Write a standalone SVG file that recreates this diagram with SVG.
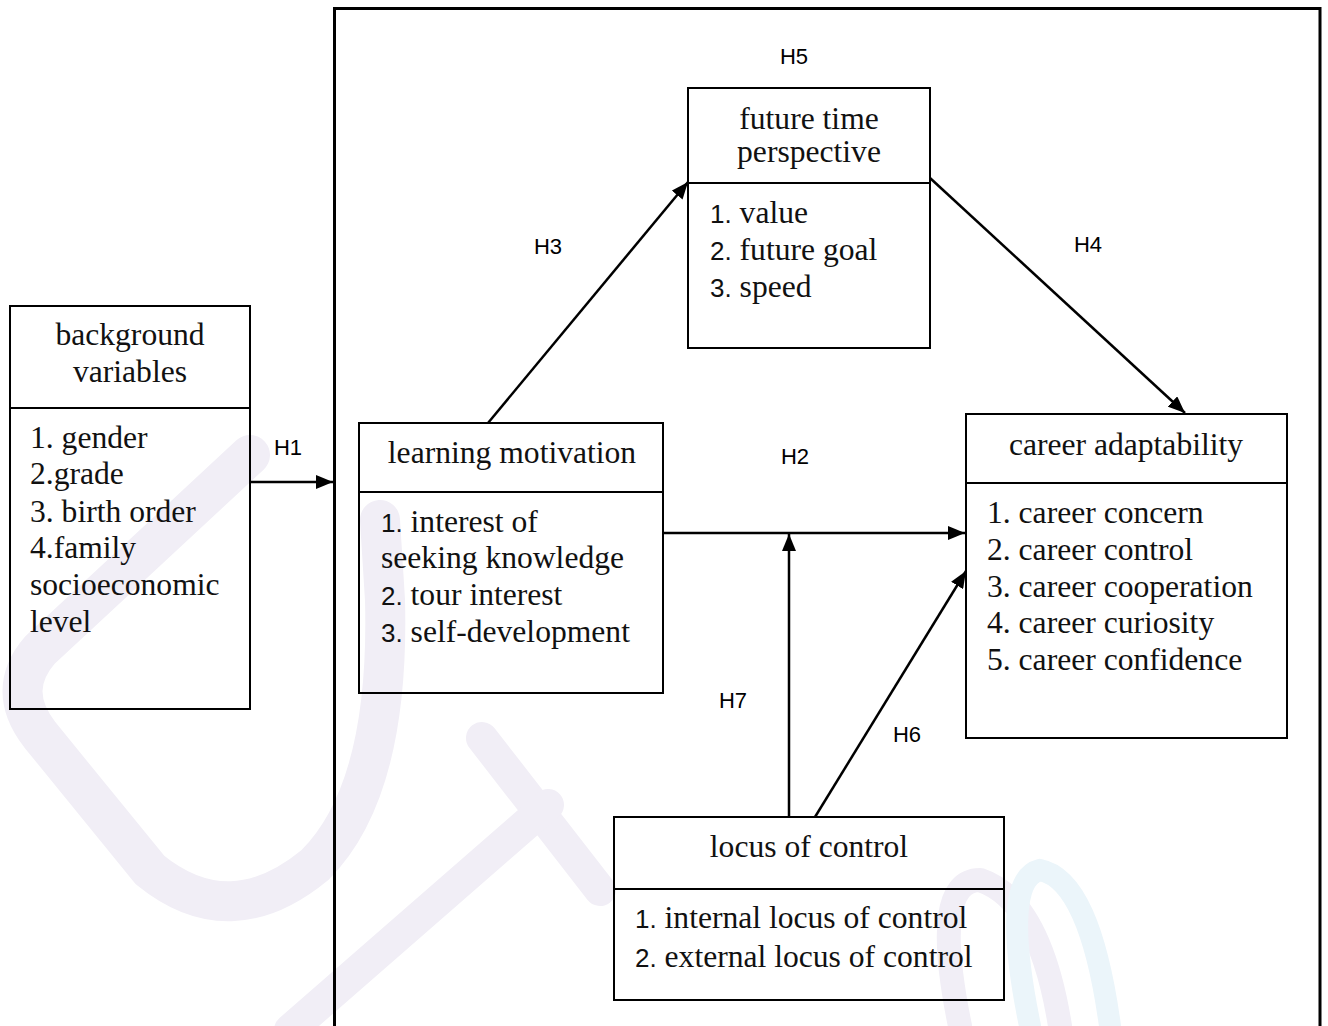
<svg xmlns="http://www.w3.org/2000/svg" width="1328" height="1026" viewBox="0 0 1328 1026">
<style>
.box{fill:none;stroke:#000;stroke-width:2}
.serif{font-family:"Liberation Serif","Times New Roman",serif;font-size:31.6px;fill:#111}
.num{font-family:"Liberation Sans",Arial,sans-serif;font-size:26px}
.lbl{font-family:"Liberation Sans",Arial,sans-serif;font-size:22px;fill:#000;text-anchor:middle}
.mid{text-anchor:middle}
.conn{stroke:#000;stroke-width:2.5;fill:none;marker-end:url(#ah)}
.wm{fill:none;stroke:#f1eef6;stroke-linecap:round;stroke-linejoin:round}
.wb{fill:none;stroke:#ebf5fa;stroke-linecap:round}
</style>
<defs>
<marker id="ah" markerUnits="userSpaceOnUse" markerWidth="18" markerHeight="14" refX="17" refY="7" orient="auto">
<path d="M0,0 L17,7 L0,14 z" fill="#000"/>
</marker>
</defs>
<rect width="1328" height="1026" fill="#fff"/>
<g id="watermark">
<path class="wm" stroke-width="40" d="M250,455 L40,650 Q5,690 40,735 L150,870 Q230,935 315,865 Q390,790 385,600 L380,520"/>
<path class="wm" stroke-width="32" d="M482,738 L600,890"/>
<path class="wm" stroke-width="32" d="M548,805 L290,1030"/>
<path class="wm" stroke-width="24" d="M1060,1026 Q1040,900 980,880 Q930,880 960,1026"/>
<path class="wb" stroke-width="22" d="M1110,1026 Q1090,880 1040,870 Q1000,880 1030,1026"/>
</g>
<path id="frame" d="M334.5,1026 V8.5 H1320 V1026" fill="none" stroke="#000" stroke-width="3"/>
<g id="background-variables">
<rect class="box" x="10" y="306" width="240" height="403"/>
<line class="box" x1="10" y1="408" x2="250" y2="408"/>
<text class="serif mid" x="130" y="345">background</text>
<text class="serif mid" x="130" y="382">variables</text>
<text class="serif" x="30" y="448">1. gender</text>
<text class="serif" x="30" y="484">2.grade</text>
<text class="serif" x="30" y="522">3. birth order</text>
<text class="serif" x="30" y="558">4.family</text>
<text class="serif" x="30" y="595">socioeconomic</text>
<text class="serif" x="30" y="632">level</text>
</g>
<g id="future-time-perspective">
<rect class="box" x="688" y="88" width="242" height="260"/>
<line class="box" x1="688" y1="183" x2="930" y2="183"/>
<text class="serif mid" x="809" y="129">future time</text>
<text class="serif mid" x="809" y="162">perspective</text>
<text class="serif" x="710" y="223"><tspan class="num">1.</tspan> value</text>
<text class="serif" x="710" y="260"><tspan class="num">2.</tspan> future goal</text>
<text class="serif" x="710" y="297"><tspan class="num">3.</tspan> speed</text>
</g>
<g id="learning-motivation">
<rect class="box" x="359" y="423" width="304" height="270"/>
<line class="box" x1="359" y1="492" x2="663" y2="492"/>
<text class="serif mid" x="512" y="463">learning motivation</text>
<text class="serif" x="381" y="532"><tspan class="num">1.</tspan> interest of</text>
<text class="serif" x="381" y="568">seeking knowledge</text>
<text class="serif" x="381" y="605"><tspan class="num">2.</tspan> tour interest</text>
<text class="serif" x="381" y="642"><tspan class="num">3.</tspan> self-development</text>
</g>
<g id="career-adaptability">
<rect class="box" x="966" y="414" width="321" height="324"/>
<line class="box" x1="966" y1="483" x2="1287" y2="483"/>
<text class="serif mid" x="1126" y="455">career adaptability</text>
<text class="serif" x="987" y="523">1. career concern</text>
<text class="serif" x="987" y="560">2. career control</text>
<text class="serif" x="987" y="597">3. career cooperation</text>
<text class="serif" x="987" y="633">4. career curiosity</text>
<text class="serif" x="987" y="670">5. career confidence</text>
</g>
<g id="locus-of-control">
<rect class="box" x="614" y="817" width="390" height="183"/>
<line class="box" x1="614" y1="889" x2="1004" y2="889"/>
<text class="serif mid" x="809" y="857">locus of control</text>
<text class="serif" x="635" y="928"><tspan class="num">1.</tspan> internal locus of control</text>
<text class="serif" x="635" y="967"><tspan class="num">2.</tspan> external locus of control</text>
</g>
<g id="connectors">
<line class="conn" x1="250" y1="482" x2="333" y2="482"/>
<line class="conn" x1="488" y1="423" x2="688" y2="182"/>
<line class="conn" x1="930" y1="178" x2="1185" y2="413"/>
<line class="conn" x1="663" y1="533" x2="965" y2="533"/>
<line class="conn" x1="789" y1="817" x2="789" y2="534"/>
<line class="conn" x1="815" y1="817" x2="966" y2="571"/>
</g>
<g id="labels">
<text class="lbl" x="794" y="64">H5</text>
<text class="lbl" x="548" y="254">H3</text>
<text class="lbl" x="1088" y="252">H4</text>
<text class="lbl" x="288" y="455">H1</text>
<text class="lbl" x="795" y="464">H2</text>
<text class="lbl" x="733" y="708">H7</text>
<text class="lbl" x="907" y="742">H6</text>
</g>
</svg>
